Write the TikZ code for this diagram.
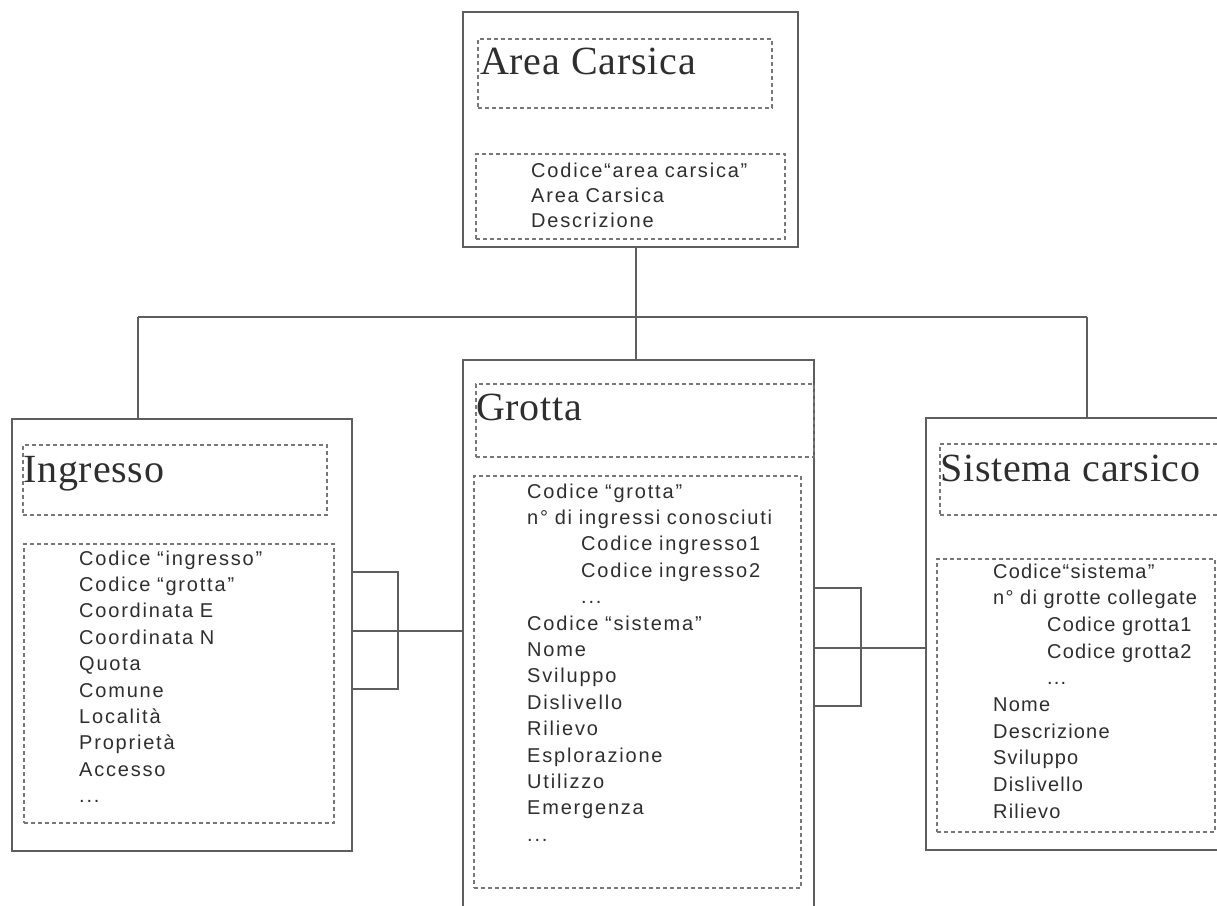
\documentclass[tikz,border=0pt]{standalone}
\usepackage{fontspec}
\setmainfont{Liberation Serif}
\newfontfamily\attrfont[LetterSpace=9]{Liberation Sans}
\newfontfamily\attrfontb[LetterSpace=6]{Liberation Sans}
\newfontfamily\titlefont[LetterSpace=2]{Liberation Serif}
\definecolor{boxgray}{HTML}{5E5E5E}
\definecolor{dashgray}{HTML}{777777}
\definecolor{textgray}{HTML}{2E2E2E}
\begin{document}
\begin{tikzpicture}[x=1pt,y=-1pt,
  outerbox/.style={draw=boxgray, line width=1.3pt, fill=white, inner sep=0pt, outer sep=0pt, anchor=north west},
  dashbox/.style={draw=dashgray, line width=1.2pt, dash pattern=on 4pt off 3pt, inner sep=0pt, outer sep=0pt, anchor=north west},
  titletext/.style={font=\titlefont\fontsize{40}{48}\selectfont, text=textgray, inner sep=0pt, anchor=base west},
  attrtext/.style={text=textgray, inner sep=0pt, anchor=base west, text width=320pt, align=left},
  conn/.style={draw=boxgray, line width=1.2pt}
]
\useasboundingbox (0,0) rectangle (1217,905);
\clip (0,0) rectangle (1217,905);
\fill[white] (0,0) rectangle (1217,905);

% ---------- Area Carsica ----------
\node[outerbox, minimum width=335pt, minimum height=235pt] (area) at (463,12) {};
\node[dashbox, minimum width=294pt, minimum height=69pt] (areaT) at (478,39) {};
\node[dashbox, minimum width=309pt, minimum height=85pt] (areaA) at (476,154) {};
\node[titletext] (areaTitle) at (480,74) {Area Carsica};
\node[attrtext, font=\attrfont\fontsize{20}{25}\selectfont] (areaTxt) at (531,177)
  {Codice“area carsica”\\Area Carsica\\Descrizione};

% ---------- Ingresso ----------
\node[outerbox, minimum width=340pt, minimum height=432pt] (ingresso) at (12,419) {};
\node[dashbox, minimum width=304pt, minimum height=70pt] (ingT) at (23,445) {};
\node[dashbox, minimum width=310pt, minimum height=279pt] (ingA) at (24,544) {};
\node[titletext] (ingTitle) at (23,482) {Ingresso};
\node[attrtext, font=\attrfont\fontsize{20}{26.4}\selectfont] (ingTxt) at (79,565)
  {Codice “ingresso”\\Codice “grotta”\\Coordinata E\\Coordinata N\\Quota\\Comune\\Località\\Proprietà\\Accesso\\...};

% ---------- Grotta ----------
\node[outerbox, minimum width=351pt, minimum height=570pt] (grotta) at (463,360) {};
\node[dashbox, minimum width=338pt, minimum height=73pt] (grT) at (476,384) {};
\node[dashbox, minimum width=327pt, minimum height=412pt] (grA) at (474,476) {};
\node[titletext] (grTitle) at (476,420) {Grotta};
\node[attrtext, font=\attrfont\fontsize{20}{26.4}\selectfont] (grTxt) at (527,498)
  {Codice “grotta”\\n° di ingressi conosciuti\\\hspace*{54pt}Codice ingresso1\\\hspace*{54pt}Codice ingresso2\\\hspace*{54pt}...\\Codice “sistema”\\Nome\\Sviluppo\\Dislivello\\Rilievo\\Esplorazione\\Utilizzo\\Emergenza\\...};

% ---------- Sistema carsico ----------
\node[outerbox, minimum width=330pt, minimum height=432pt] (sistema) at (926,418) {};
\node[dashbox, minimum width=320pt, minimum height=71pt] (siT) at (940,444) {};
\node[dashbox, minimum width=278pt, minimum height=273pt] (siA) at (937,559) {};
\node[titletext] (siTitle) at (940,481) {Sistema carsico};
\node[attrtext, font=\attrfontb\fontsize{20}{26.7}\selectfont] (siTxt) at (993,578)
  {Codice“sistema”\\n° di grotte collegate\\\hspace*{54pt}Codice grotta1\\\hspace*{54pt}Codice grotta2\\\hspace*{54pt}...\\Nome\\Descrizione\\Sviluppo\\Dislivello\\Rilievo};

% ---------- tree connectors ----------
\coordinate (j) at (636,317);
\coordinate (jl) at (138,317);
\coordinate (jr) at (1087,317);
\draw[conn] (j |- area.south) -- (j);
\draw[conn] (jl) -- (jr);
\draw[conn] (jl) -- (jl |- ingresso.north);
\draw[conn] (j) -- (j |- grotta.north);
\draw[conn] (jr) -- (jr |- sistema.north);

% ---------- bracket connectors ----------
\coordinate (lb) at (398,631);
\coordinate (lbt) at (398,572);
\coordinate (lbb) at (398,689);
\draw[conn] (ingresso.east |- lbt) -- (lbt) -- (lbb) -- (ingresso.east |- lbb);
\draw[conn] (ingresso.east |- lb) -- (grotta.west |- lb);

\coordinate (rb) at (861,648);
\coordinate (rbt) at (861,588);
\coordinate (rbb) at (861,706);
\draw[conn] (grotta.east |- rbt) -- (rbt) -- (rbb) -- (grotta.east |- rbb);
\draw[conn] (grotta.east |- rb) -- (sistema.west |- rb);
\end{tikzpicture}
\end{document}
